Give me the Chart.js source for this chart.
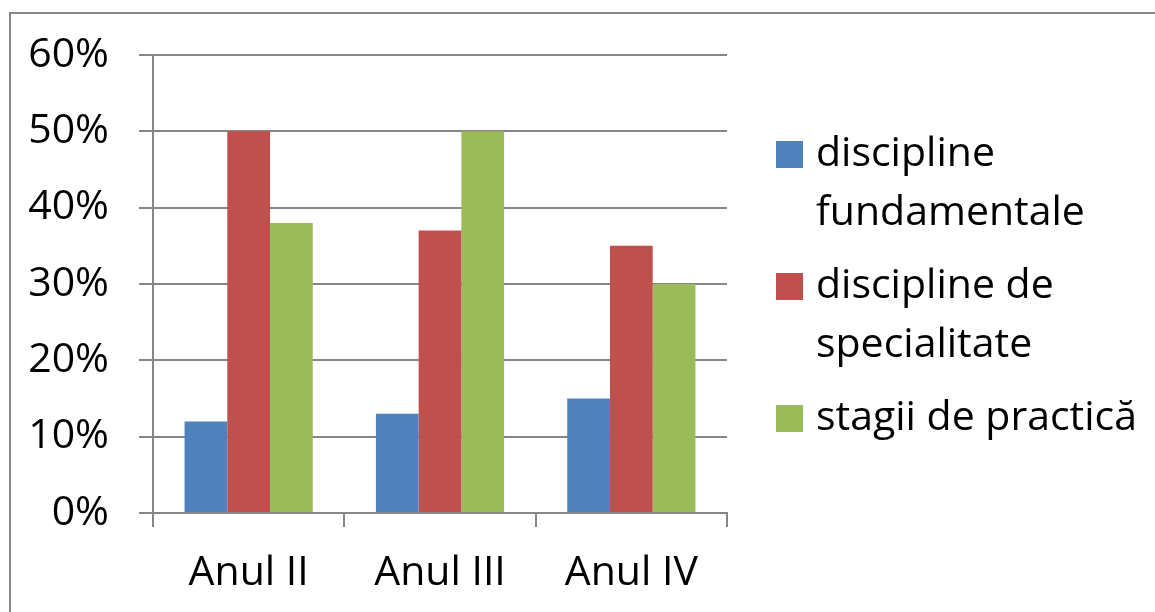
<!DOCTYPE html>
<html>
<head>
<meta charset="utf-8">
<script src="https://cdn.jsdelivr.net/npm/chart.js@4/dist/chart.umd.min.js"></script>
<style>
    html, body { margin: 0; padding: 0; background: #fff; }
    #wrap { position: relative; width: 1155px; height: 612px; overflow: hidden; }
    #frame { position: absolute; left: 9px; top: 12px; width: 1160px; height: 620px;
             border: 2px solid #878787; box-sizing: border-box; }
    #chart { position: absolute; left: 0; top: 0; }
    #legend { position: absolute; left: 776px; top: 121px; font-family: 'Open Sans', sans-serif;
              font-size: 41px; line-height: 59px; color: #000; }
    .item { position: relative; padding-left: 40px; margin-bottom: 14px; }
    .box { position: absolute; left: 0; top: 20px; width: 27px; height: 27px; }
</style>
</head>
<body>
<div id="wrap">
    <div id="frame"></div>
    <canvas id="chart" width="1155" height="612"></canvas>
    <div id="legend"></div>
</div>
<script>
(function () {
    'use strict';

    /* ── Datos ─────────────────────────────────────────── */
    var CATEGORIES = ['Anul II', 'Anul III', 'Anul IV'];
    var FUNDAMENTALE = [12, 13, 15];
    var SPECIALITATE = [50, 37, 35];
    var PRACTICA     = [38, 50, 30];
    var SERIES_NAMES = [['discipline', 'fundamentale'], ['discipline de', 'specialitate'], ['stagii de practică']];
    var Y_TICKS = [0, 10, 20, 30, 40, 50, 60];

    var BLUE  = '#4F81BD';
    var RED   = '#C0504D';
    var GREEN = '#9BBB59';
    var GRID  = '#868686';
    var FONT  = 'Open Sans, sans-serif';

    var COLORS = [BLUE, RED, GREEN];
    var VALUES = [FUNDAMENTALE, SPECIALITATE, PRACTICA];

    var datasets = VALUES.map(function (v, i) {
        return {
            label: SERIES_NAMES[i].join(' '),
            data: v,
            backgroundColor: COLORS[i],
            borderWidth: 0,
            barPercentage: 1,
            categoryPercentage: 0.67
        };
    });

    new Chart(document.getElementById('chart'), {
        type: 'bar',
        data: { labels: CATEGORIES, datasets: datasets },
        options: {
            responsive: false,
            animation: false,
            layout: { padding: { left: 0, top: 55, right: 428, bottom: 0 } },
            plugins: { legend: { display: false }, tooltip: { enabled: false } },
            scales: {
                x: {
                    grid: { offset: true, drawOnChartArea: false, tickLength: 14, color: GRID, lineWidth: 2 },
                    border: { color: GRID, width: 2 },
                    ticks: { color: '#000', font: { family: FONT, size: 41 }, padding: 22 },
                    afterFit: function (s) { s.height = 612 - 513; }
                },
                y: {
                    min: 0, max: 60,
                    afterBuildTicks: function (s) {
                        s.ticks = Y_TICKS.map(function (v) { return { value: v }; });
                    },
                    grid: { tickLength: 14, color: GRID, lineWidth: 2 },
                    border: { color: GRID, width: 2 },
                    ticks: {
                        color: '#000', font: { family: FONT, size: 41 }, padding: 30,
                        callback: function (v) { return v + '%'; }
                    },
                    afterFit: function (s) { s.width = 153; }
                }
            }
        }
    });

    /* ── Leyenda HTML ──────────────────────────────────── */
    var legend = document.getElementById('legend');
    SERIES_NAMES.forEach(function (lines, i) {
        var item = document.createElement('div');
        item.className = 'item';
        var box = document.createElement('span');
        box.className = 'box';
        box.style.background = COLORS[i];
        item.appendChild(box);
        item.appendChild(document.createTextNode(lines[0]));
        for (var k = 1; k < lines.length; k++) {
            item.appendChild(document.createElement('br'));
            item.appendChild(document.createTextNode(lines[k]));
        }
        legend.appendChild(item);
    });
})();
</script>
</body>
</html>
